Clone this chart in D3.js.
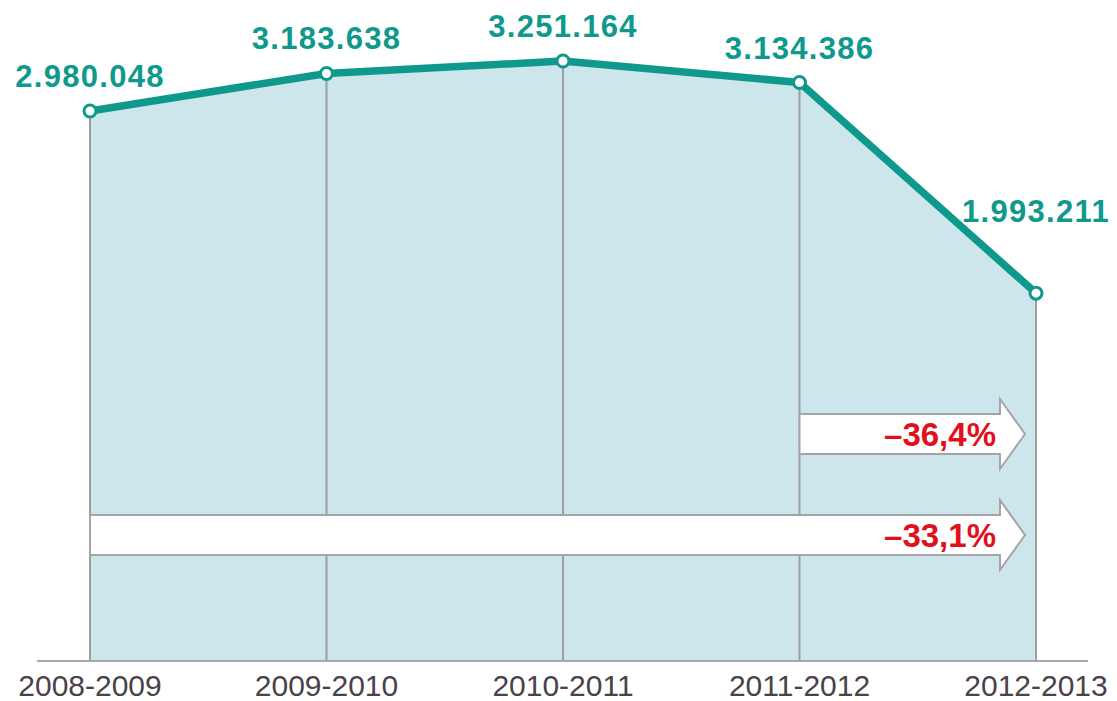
<!DOCTYPE html>
<html>
<head>
<meta charset="utf-8">
<script src="https://cdn.jsdelivr.net/npm/d3@7"></script>
<style>
body { margin: 0; background: #fff; }
svg { display: block; font-family: "Liberation Sans", Arial, sans-serif; }
</style>
</head>
<body>
<svg id="chart" width="1117" height="701"></svg>
<script>
var years = ['2008-2009', '2009-2010', '2010-2011', '2011-2012', '2012-2013'];
var values = [2980048, 3183638, 3251164, 3134386, 1993211];
var valueLabels = ['2.980.048', '3.183.638', '3.251.164', '3.134.386', '1.993.211'];
var changeFrom = ['2011-2012', '2008-2009'];
var changeLabels = ['\u201336,4%', '\u201333,1%'];

var teal = '#0f998c', fillBlue = '#cde6eb', gridGrey = '#9c9ca4', red = '#e0101c';

var svg = d3.select('#chart');
var baseY = 661;

var x = d3.scalePoint().domain(years).range([90, 1036]);
var y = d3.scaleLinear().domain([0, 3251164]).range([baseY, 61]);

var data = years.map(function(d, i) { return {year: d, value: values[i], label: valueLabels[i]}; });

// filled area
var area = d3.area()
	.x(function(d) { return x(d.year); })
	.y0(baseY)
	.y1(function(d) { return y(d.value); });

svg.append('path')
	.datum(data)
	.attr('d', area)
	.style('fill', fillBlue);

// vertical drop lines
svg.selectAll('.drop')
	.data(data)
	.enter()
	.append('line')
	.attr('class', 'drop')
	.attr('x1', function(d) { return x(d.year); })
	.attr('x2', function(d) { return x(d.year); })
	.attr('y1', function(d) { return y(d.value); })
	.attr('y2', baseY)
	.style('stroke', gridGrey)
	.style('stroke-width', 2);

// arrows
function arrowPath(x0, x1, cy) {
	var bh = 20, hh = 35, hl = 25;
	return 'M' + x0 + ',' + (cy - bh) +
		'L' + (x1 - hl) + ',' + (cy - bh) +
		'L' + (x1 - hl) + ',' + (cy - hh) +
		'L' + x1 + ',' + cy +
		'L' + (x1 - hl) + ',' + (cy + hh) +
		'L' + (x1 - hl) + ',' + (cy + bh) +
		'L' + x0 + ',' + (cy + bh) + 'Z';
}
var arrowY = [434, 535];
var tipX = x(years[years.length - 1]) - 11;

changeFrom.forEach(function(from, i) {
	svg.append('path')
		.attr('d', arrowPath(x(from), tipX, arrowY[i]))
		.style('fill', '#fff')
		.style('stroke', '#a4a4a8')
		.style('stroke-width', 2);
	svg.append('text')
		.attr('x', tipX - 29)
		.attr('y', arrowY[i] + 12)
		.attr('text-anchor', 'end')
		.style('font-size', '33px')
		.style('font-weight', 'bold')
		.style('fill', red)
		.text(changeLabels[i]);
});

// x axis baseline
svg.append('line')
	.attr('x1', 37).attr('x2', 1088)
	.attr('y1', baseY).attr('y2', baseY)
	.style('stroke', '#a8a8ac')
	.style('stroke-width', 2);

// line
var line = d3.line()
	.x(function(d) { return x(d.year); })
	.y(function(d) { return y(d.value); });

svg.append('path')
	.datum(data)
	.attr('d', line)
	.style('fill', 'none')
	.style('stroke', teal)
	.style('stroke-width', 7.5)
	.style('stroke-linejoin', 'round');

svg.selectAll('.dot')
	.data(data)
	.enter()
	.append('circle')
	.attr('class', 'dot')
	.attr('cx', function(d) { return x(d.year); })
	.attr('cy', function(d) { return y(d.value); })
	.attr('r', 6)
	.style('fill', '#fff')
	.style('stroke', teal)
	.style('stroke-width', 3);

// value labels
svg.selectAll('.val')
	.data(data)
	.enter()
	.append('text')
	.attr('class', 'val')
	.attr('x', function(d) { return x(d.year); })
	.attr('y', function(d, i) { return y(d.value) - (i == data.length - 1 ? 71 : 24); })
	.attr('text-anchor', 'middle')
	.style('font-size', '31px')
	.style('font-weight', 'bold')
	.style('letter-spacing', '1.3px')
	.style('fill', teal)
	.text(function(d) { return d.label; });

// category labels
svg.selectAll('.cat')
	.data(years)
	.enter()
	.append('text')
	.attr('class', 'cat')
	.attr('x', function(d) { return x(d); })
	.attr('y', 696)
	.attr('text-anchor', 'middle')
	.style('font-size', '30px')
	.style('fill', '#4a4248')
	.text(function(d) { return d; });
</script>
</body>
</html>
